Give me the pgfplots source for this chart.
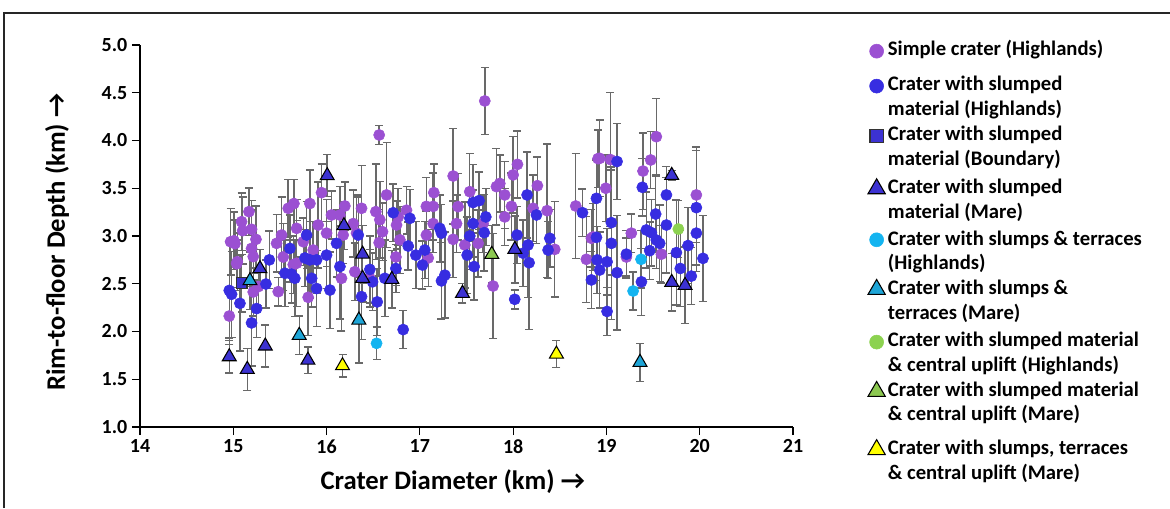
\documentclass[border=0pt]{standalone}
\usepackage{fontspec}
\setmainfont{Carlito}
\usepackage{pgfplots}
\pgfplotsset{compat=1.18}
\usepackage{pgfplotstable}

\definecolor{simple}{RGB}{155,80,210}
\definecolor{slumpH}{RGB}{55,45,225}
\definecolor{slumpM}{RGB}{60,50,210}
\definecolor{terrH}{RGB}{20,180,240}
\definecolor{terrM}{RGB}{30,165,215}
\definecolor{upH}{RGB}{140,210,80}
\definecolor{upM}{RGB}{140,200,80}
\definecolor{upY}{RGB}{255,255,0}
\definecolor{errgray}{RGB}{105,105,105}

% simple craters (highlands)
\pgfplotstableread{
x y e
14.957 2.162 0.30
14.971 2.940 0.35
15.007 2.950 0.30
15.018 2.920 0.25
15.036 2.710 0.25
15.043 2.730 0.30
15.089 3.150 0.30
15.100 3.056 0.35
15.168 3.255 0.25
15.196 3.070 0.30
15.196 2.870 0.40
15.214 2.784 0.30
15.243 2.965 0.35
15.214 2.414 0.25
15.268 2.470 0.20
15.482 2.417 0.15
15.464 2.923 0.30
15.518 3.010 0.40
15.536 2.780 0.35
15.589 3.290 0.30
15.650 3.340 0.25
15.679 3.080 0.30
15.643 2.700 0.30
15.678 2.714 0.45
15.750 2.940 0.25
15.803 2.358 0.40
15.821 3.340 0.35
15.857 2.853 0.30
15.910 3.115 0.45
15.946 3.454 0.30
16.000 3.030 0.35
16.053 3.220 0.25
16.143 3.220 0.30
16.160 2.557 0.55
16.178 3.010 0.30
16.196 3.314 0.25
16.286 3.130 0.35
16.303 2.626 0.30
16.321 3.030 0.40
16.375 3.290 0.45
16.464 2.557 0.30
16.528 3.255 0.50
16.564 4.058 0.10
16.571 3.170 0.40
16.600 3.045 0.30
16.564 2.930 0.35
16.643 3.430 0.55
16.743 2.780 0.30
16.750 3.115 0.25
16.768 3.200 0.30
16.786 2.960 0.35
16.857 3.270 0.25
17.070 3.310 0.30
17.070 3.010 0.25
17.090 2.770 0.30
17.143 3.310 0.35
17.143 3.130 0.30
17.150 3.454 0.30
17.357 3.628 0.50
17.357 2.965 0.40
17.393 3.130 0.30
17.410 3.307 0.35
17.482 2.906 0.45
17.535 3.464 0.40
17.625 2.923 0.35
17.678 3.130 0.30
17.696 4.414 0.35
17.785 2.476 0.55
17.821 3.517 0.40
17.857 3.550 0.30
17.910 3.430 0.35
17.910 3.200 0.30
17.982 3.310 0.35
18.000 3.640 0.40
18.046 3.750 0.35
18.214 3.290 0.35
18.260 3.527 0.30
18.364 3.265 0.70
18.446 2.860 0.50
18.671 3.314 0.55
18.785 2.756 0.45
18.839 2.976 0.30
18.857 2.990 0.35
18.910 3.810 0.30
18.928 3.813 0.40
18.993 3.500 0.35
19.043 3.800 0.70
19.214 2.780 0.20
19.267 3.030 0.20
19.392 3.680 0.40
19.475 3.796 0.30
19.535 4.040 0.40
19.589 2.810 0.30
19.964 3.430 0.50
}\simpletab

% slumped material (highlands)
\pgfplotstableread{
x y e
14.957 2.430 0.50
14.982 2.390 0.45
15.071 2.295 0.50
15.196 2.090 0.45
15.250 2.240 0.30
15.350 2.497 0.25
15.386 2.750 0.30
15.554 2.610 0.35
15.607 2.870 0.35
15.625 2.600 0.30
15.660 2.557 0.40
15.768 2.770 0.30
15.786 3.010 0.35
15.820 2.750 0.40
15.840 2.557 0.30
15.893 2.750 0.35
15.893 2.450 0.40
16.000 2.800 0.35
16.036 2.434 0.40
16.107 2.923 0.35
16.143 2.680 0.55
16.340 3.010 0.40
16.375 2.365 0.45
16.464 2.650 0.35
16.493 2.520 0.30
16.543 2.310 0.35
16.625 2.557 0.40
16.714 3.244 0.30
16.743 2.660 0.25
16.821 2.020 0.20
16.875 2.895 0.25
16.893 3.185 0.30
16.957 2.800 0.35
17.028 2.696 0.25
17.053 2.853 0.30
17.214 3.080 0.35
17.232 3.030 0.30
17.232 2.530 0.40
17.268 2.590 0.45
17.507 2.800 0.40
17.535 3.000 0.35
17.570 3.130 0.35
17.570 3.350 0.40
17.582 2.680 0.35
17.635 3.370 0.30
17.690 3.035 0.40
17.707 3.200 0.30
18.017 2.337 0.10
18.042 3.010 0.30
18.107 2.820 0.35
18.150 3.430 0.45
18.160 2.906 0.55
18.171 2.720 0.70
18.250 3.220 0.30
18.375 2.853 0.30
18.393 2.976 0.30
18.743 3.244 0.25
18.839 2.540 0.30
18.893 3.394 0.40
18.893 2.986 0.45
18.900 2.750 0.35
18.928 2.644 0.40
19.007 2.730 0.35
19.007 2.210 0.25
19.053 3.140 0.55
19.053 2.923 0.80
19.114 3.780 0.40
19.114 2.616 0.60
19.214 2.810 0.25
19.375 2.520 0.35
19.385 3.510 0.30
19.428 3.063 0.40
19.464 2.846 0.30
19.482 3.035 0.35
19.528 3.230 0.40
19.535 2.958 0.30
19.571 2.923 0.40
19.643 3.430 0.30
19.643 3.115 0.50
19.750 2.826 0.55
19.792 2.660 0.40
19.875 2.900 0.40
19.910 2.580 0.30
19.964 3.297 0.60
19.964 3.030 0.40
20.035 2.766 0.45
}\slumphtab

% slumped material (boundary)
\pgfplotstableread{
x y e
15.090 2.505 0.30
}\slumpbtab

% slumped material (mare)
\pgfplotstableread{
x y e
14.957 1.736 0.17
15.150 1.604 0.22
15.286 2.658 0.20
15.343 1.848 0.22
15.800 1.700 0.14
16.007 3.632 0.22
16.186 3.108 0.25
16.386 2.810 0.30
16.386 2.557 0.25
16.700 2.546 0.30
17.457 2.400 0.10
18.018 2.860 0.35
19.700 3.635 0.05
19.700 2.515 0.30
19.843 2.483 0.40
}\slumpmtab

% slumps & terraces (highlands)
\pgfplotstableread{
x y e
16.536 1.876 0.17
19.286 2.424 0.20
19.371 2.756 0.30
}\terrhtab

% slumps & terraces (mare)
\pgfplotstableread{
x y e
15.179 2.532 0.30
15.707 1.960 0.20
16.346 2.120 0.45
19.360 1.677 0.20
}\terrmtab

% slumped material & central uplift (highlands)
\pgfplotstableread{
x y e
19.771 3.073 0.30
}\uphtab

% slumped material & central uplift (mare)
\pgfplotstableread{
x y e
17.771 2.808 0.30
}\upmtab

% slumps, terraces & central uplift (mare)
\pgfplotstableread{
x y e
16.171 1.642 0.12
18.464 1.764 0.14
}\upytab

\begin{document}
\begin{tikzpicture}
\begin{axis}[
  at={(0,0)}, anchor=south west,
  scale only axis, width=489.75pt, height=286.5pt,
  xmin=14, xmax=21, ymin=1, ymax=5,
  xtick={14,15,...,21}, ytick={1,1.5,...,5},
  yticklabel style={/pgf/number format/.cd, fixed, fixed zerofill, precision=1},
  /pgf/number format/assume math mode=true,
  ticklabel style={font=\bfseries\fontsize{15}{17}\selectfont},
  axis lines*=left, tick align=outside, major tick length=6pt,
  tick style={black, line width=0.8pt},
  axis line style={black, line width=0.9pt},
  xlabel={Crater Diameter (km) →},
  ylabel={Rim-to-floor Depth (km) →},
  label style={font=\bfseries\fontsize{20}{24}\selectfont},
  xlabel style={at={(axis description cs:0.479,-0.144)}, anchor=center},
  ylabel style={at={(axis description cs:-0.127,0.484)}, anchor=center},
  legend style={at={(rel axis cs:1,1)}, anchor=north west, xshift=51pt, yshift=7pt,
    draw=none, fill=none, row sep=0pt,
    font=\bfseries\fontsize{15.5}{18}\selectfont,
    nodes={inner ysep=0pt, text height=13pt, text depth=5.75pt}},
  legend cell align=left,
  legend image post style={/tikz/every mark/.append style={scale=1.25}},
  error bars/y dir=both, error bars/y explicit,
  error bars/error bar style={errgray, line width=1.1pt},
  error bars/error mark options={rotate=90, errgray, line width=1.1pt, mark size=3pt},
  clip=false,
]
\addplot[only marks, mark=*, mark size=4.2pt, mark options={fill=simple, draw=simple},
  legend image post style={yshift=3.7pt}]
  table[x=x, y=y, y error=e] {\simpletab};
\addlegendentry[text depth=13.25pt]{Simple crater (Highlands)}

\addplot[only marks, mark=*, mark size=4.2pt, mark options={fill=slumpH, draw=slumpH}]
  table[x=x, y=y, y error=e] {\slumphtab};
\addlegendentry{Crater with slumped}
\addlegendimage{empty legend}
\addlegendentry{material (Highlands)}

\addplot[only marks, mark=square*, mark size=4pt, mark options={fill=slumpM, draw=black!80, line width=0.8pt}]
  table[x=x, y=y, y error=e] {\slumpbtab};
\addlegendentry{Crater with slumped}
\addlegendimage{empty legend}
\addlegendentry{material (Boundary)}

\addplot[only marks, mark=triangle*, mark size=6pt, mark options={fill=slumpM, draw=black, line width=0.8pt},
  legend image post style={yshift=-1pt}]
  table[x=x, y=y, y error=e] {\slumpmtab};
\addlegendentry[text height=15pt]{Crater with slumped}
\addlegendimage{empty legend}
\addlegendentry{material (Mare)}

\addplot[only marks, mark=*, mark size=4.2pt, mark options={fill=terrH, draw=terrH}]
  table[x=x, y=y, y error=e] {\terrhtab};
\addlegendentry[text height=14.5pt]{Crater with slumps \& terraces}
\addlegendimage{empty legend}
\addlegendentry[text height=12pt]{(Highlands)}

\addplot[only marks, mark=triangle*, mark size=6pt, mark options={fill=terrM, draw=black, line width=0.8pt}]
  table[x=x, y=y, y error=e] {\terrmtab};
\addlegendentry{Crater with slumps \&}
\addlegendimage{empty legend}
\addlegendentry{terraces (Mare)}

\addplot[only marks, mark=*, mark size=4.2pt, mark options={fill=upH, draw=upH},
  legend image post style={yshift=-1pt}]
  table[x=x, y=y, y error=e] {\uphtab};
\addlegendentry[text height=15pt]{Crater with slumped material}
\addlegendimage{empty legend}
\addlegendentry[text height=12.5pt]{\& central uplift (Highlands)}

\addplot[only marks, mark=triangle*, mark size=6pt, mark options={fill=upM, draw=black, line width=0.8pt}]
  table[x=x, y=y, y error=e] {\upmtab};
\addlegendentry{Crater with slumped material}
\addlegendimage{empty legend}
\addlegendentry[text height=12.5pt]{\& central uplift (Mare)}

\addplot[only marks, mark=triangle*, mark size=6pt, mark options={fill=upY, draw=black, line width=0.8pt},
  legend image post style={yshift=-3.4pt}]
  table[x=x, y=y, y error=e] {\upytab};
\addlegendentry[text height=19.5pt]{Crater with slumps,  terraces}
\addlegendimage{empty legend}
\addlegendentry{\& central uplift (Mare)}
\end{axis}
\draw[line width=1.2pt, black!85] (-102pt,-60.75pt) -- (-102pt,310.5pt) -- (772.5pt,310.5pt);
\pgfresetboundingbox
\path[use as bounding box] (-105pt,-60.75pt) rectangle (772.5pt,320.25pt);
\end{tikzpicture}
\end{document}
